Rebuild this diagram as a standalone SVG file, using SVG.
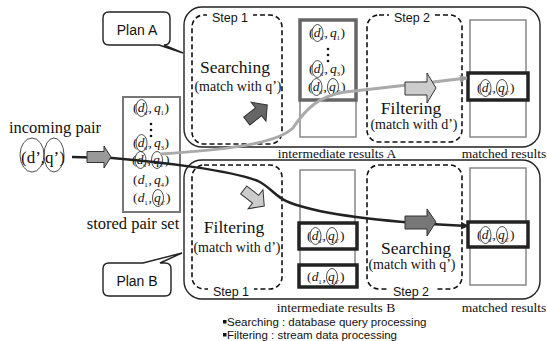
<svg xmlns="http://www.w3.org/2000/svg" width="547" height="341" viewBox="0 0 547 341">
<style>
.serif{font-family:"Liberation Serif","Times New Roman",serif;fill:#111}
.sans{font-family:"Liberation Sans",Arial,sans-serif;fill:#111}
.it{font-style:italic}
.sub{font-size:6px}
.plan{fill:#fff;stroke:#222;stroke-width:1.4}
.dash{fill:none;stroke:#111;stroke-width:1.6;stroke-dasharray:5,3}
.thin{fill:#fff;stroke:#888;stroke-width:1.5}
.thickg{fill:#fff;stroke:#666;stroke-width:3.5}
.thickb{fill:#fff;stroke:#222;stroke-width:3.5}
.ell{fill:none;stroke:#222;stroke-width:0.8}
.row{font-size:13.5px}
.lbl{font-size:13.5px}
.big{font-size:17.5px}
.mid{font-size:14px}
.step{font-size:12.5px}
.barrow{stroke:#333;stroke-width:1}
</style>
<defs>
<marker id="mg" viewBox="0 0 10 10" refX="9" refY="5" markerWidth="8" markerHeight="8" markerUnits="userSpaceOnUse" orient="auto"><path d="M0 0L10 5L0 10Z" fill="#999"/></marker>
<marker id="md" viewBox="0 0 10 10" refX="9" refY="5" markerWidth="8" markerHeight="8" markerUnits="userSpaceOnUse" orient="auto"><path d="M0 0L10 5L0 10Z" fill="#222"/></marker>
<path id="rarrow" d="M-13 -5H2V-12L13 0L2 12V5H-13Z"/>
</defs>
<rect width="547" height="341" fill="#fff"/>

<!-- Callouts -->
<g id="planA">
<path class="plan" d="M109 12H164Q170 12 170 18V39Q170 45 164 45L183 53L159 45H109Q103 45 103 39V18Q103 12 109 12Z"/>
<text class="sans" x="137" y="35" font-size="14" text-anchor="middle">Plan A</text>
</g>
<g id="planB">
<path class="plan" d="M109 263H143L182 253L160 263H165Q171 263 171 269V290Q171 296 165 296H109Q103 296 103 290V269Q103 263 109 263Z"/>
<text class="sans" x="137" y="286" font-size="14" text-anchor="middle">Plan B</text>
</g>

<!-- Plan boxes -->
<g id="planA-box"><rect class="plan" x="184" y="7" width="356" height="140" rx="18"/></g>
<g id="planB-box"><rect class="plan" x="184" y="160" width="356" height="139" rx="18"/></g>

<!-- Incoming pair -->
<g id="incoming">
<text class="serif" x="55" y="133" font-size="16.5" text-anchor="middle">incoming pair</text>
<text class="serif" x="21" y="163" font-size="17">(d’,q’)</text>
<ellipse class="ell" cx="32" cy="155" rx="12" ry="17"/>
<ellipse class="ell" cx="54" cy="155" rx="10" ry="17"/>
</g>

<!-- Stored pair set -->
<g id="stored">
<rect x="123" y="97" width="57" height="115" fill="#fff" stroke="#777" stroke-width="2"/>
<g class="serif row" transform="translate(133,112)">
<text x="0">(</text><text x="4.8" class="it">d</text><text x="11" y="3" class="sub">d’</text><text x="15.5">,</text><text x="21" class="it">q</text><text x="27.5" y="3" font-size="7">1</text><text x="31.5">)</text>
<ellipse class="ell" cx="8.5" cy="-4" rx="5.5" ry="8.5"/>
</g>
<circle cx="151" cy="124" r="1.3" fill="#111"/><circle cx="151" cy="130" r="1.3" fill="#111"/><circle cx="151" cy="136" r="1.3" fill="#111"/>
<g class="serif row" transform="translate(133,147)">
<text x="0">(</text><text x="4.8" class="it">d</text><text x="11" y="3" class="sub">d’</text><text x="15.5">,</text><text x="21" class="it">q</text><text x="27.5" y="3" font-size="7">3</text><text x="31.5">)</text>
<ellipse class="ell" cx="8.5" cy="-4" rx="5.5" ry="8.5"/>
</g>
<g class="serif row" transform="translate(132,164)">
<text x="0">(</text><text x="4.8" class="it">d</text><text x="11" y="3" class="sub">d’</text><text x="15.5">,</text><text x="21" class="it">q</text><text x="27.5" y="3" class="sub">d’</text><text x="33">)</text>
<ellipse class="ell" cx="8.5" cy="-4" rx="5.5" ry="8.5"/>
<ellipse class="ell" cx="25" cy="-4" rx="5.5" ry="8.5"/>
</g>
<g class="serif row" transform="translate(133,184)">
<text x="0">(</text><text x="4.8" class="it">d</text><text x="11.3" y="3" font-size="7">1</text><text x="15.5">,</text><text x="21" class="it">q</text><text x="27.5" y="3" font-size="7">4</text><text x="31.5">)</text>
</g>
<g class="serif row" transform="translate(133,202)">
<text x="0">(</text><text x="4.8" class="it">d</text><text x="11.3" y="3" font-size="7">1</text><text x="15.5">,</text><text x="21" class="it">q</text><text x="27.5" y="3" class="sub">d’</text><text x="33">)</text>
<ellipse class="ell" cx="25" cy="-4" rx="5.5" ry="8.5"/>
</g>
<text class="serif" x="133" y="229" font-size="16.5" text-anchor="middle">stored pair set</text>
</g>

<!-- Plan A Step 1 -->
<g id="A-step1">
<rect class="dash" x="192" y="15" width="90" height="129" rx="12"/>
<rect x="207" y="10" width="46" height="12" fill="#fff"/>
<text class="sans step" x="230" y="22" text-anchor="middle">Step 1</text>
<text class="serif big" x="235" y="73" text-anchor="middle">Searching</text>
<text class="serif mid" x="238" y="91" text-anchor="middle">(match with q’)</text>
</g>

<!-- Intermediate results A -->
<g id="A-inter">
<rect class="thin" x="300" y="20" width="56" height="117"/>
<rect class="thickg" x="300" y="20" width="56" height="80"/>
<g class="serif row" transform="translate(309,37)">
<text x="0">(</text><text x="4.8" class="it">d</text><text x="11" y="3" class="sub">d’</text><text x="15.5">,</text><text x="21" class="it">q</text><text x="27.5" y="3" font-size="7">1</text><text x="31.5">)</text>
<ellipse class="ell" cx="8.5" cy="-4" rx="5.5" ry="8.5"/>
</g>
<circle cx="328" cy="49" r="1.3" fill="#111"/><circle cx="328" cy="55" r="1.3" fill="#111"/><circle cx="328" cy="61" r="1.3" fill="#111"/>
<g class="serif row" transform="translate(309,73)">
<text x="0">(</text><text x="4.8" class="it">d</text><text x="11" y="3" class="sub">d’</text><text x="15.5">,</text><text x="21" class="it">q</text><text x="27.5" y="3" font-size="7">3</text><text x="31.5">)</text>
<ellipse class="ell" cx="8.5" cy="-4" rx="5.5" ry="8.5"/>
</g>
<g class="serif row" transform="translate(308,91)">
<text x="0">(</text><text x="4.8" class="it">d</text><text x="11" y="3" class="sub">d’</text><text x="15.5">,</text><text x="21" class="it">q</text><text x="27.5" y="3" class="sub">d’</text><text x="33">)</text>
<ellipse class="ell" cx="8.5" cy="-4" rx="5.5" ry="8.5"/>
<ellipse class="ell" cx="25" cy="-4" rx="5.5" ry="8.5"/>
</g>
<text class="serif lbl" x="337" y="158" text-anchor="middle">intermediate results A</text>
</g>

<!-- Plan A Step 2 -->
<g id="A-step2">
<rect class="dash" x="367" y="15" width="95" height="127" rx="12"/>
<rect x="389" y="10" width="46" height="12" fill="#fff"/>
<text class="sans step" x="412" y="22" text-anchor="middle">Step 2</text>
<text class="serif big" x="411" y="114" text-anchor="middle">Filtering</text>
<text class="serif mid" x="414" y="129" text-anchor="middle">(match with d’)</text>
</g>

<!-- Matched results A -->
<g id="A-matched">
<rect class="thin" x="470" y="20" width="56" height="117"/>
<rect class="thickb" x="468" y="73" width="60" height="27"/>
<g class="serif row" transform="translate(477,92)">
<text x="0">(</text><text x="4.8" class="it">d</text><text x="11" y="3" class="sub">d’</text><text x="15.5">,</text><text x="21" class="it">q</text><text x="27.5" y="3" class="sub">d’</text><text x="33">)</text>
<ellipse class="ell" cx="8.5" cy="-4" rx="5.5" ry="8.5"/>
<ellipse class="ell" cx="25" cy="-4" rx="5.5" ry="8.5"/>
</g>
<text class="serif lbl" x="504" y="158" text-anchor="middle">matched results</text>
</g>

<!-- Plan B Step 1 -->
<g id="B-step1">
<rect class="dash" x="192" y="165" width="90" height="124" rx="12"/>
<rect x="208" y="283" width="46" height="12" fill="#fff"/>
<text class="sans step" x="231" y="296" text-anchor="middle">Step 1</text>
<text class="serif big" x="234" y="233" text-anchor="middle">Filtering</text>
<text class="serif mid" x="237" y="252" text-anchor="middle">(match with d’)</text>
</g>

<!-- Intermediate results B -->
<g id="B-inter">
<rect class="thin" x="300" y="170" width="55" height="117"/>
<rect class="thickb" x="299" y="223" width="58" height="26"/>
<rect class="thickb" x="299" y="265" width="58" height="22"/>
<g class="serif row" transform="translate(307,240)">
<text x="0">(</text><text x="4.8" class="it">d</text><text x="11" y="3" class="sub">d’</text><text x="15.5">,</text><text x="21" class="it">q</text><text x="27.5" y="3" class="sub">d’</text><text x="33">)</text>
<ellipse class="ell" cx="8.5" cy="-4" rx="5.5" ry="8.5"/>
<ellipse class="ell" cx="25" cy="-4" rx="5.5" ry="8.5"/>
</g>
<g class="serif row" transform="translate(307,281)">
<text x="0">(</text><text x="4.8" class="it">d</text><text x="11.3" y="3" font-size="7">1</text><text x="15.5">,</text><text x="21" class="it">q</text><text x="27.5" y="3" class="sub">d’</text><text x="33">)</text>
<ellipse class="ell" cx="25" cy="-4" rx="5.5" ry="8.5"/>
</g>
<text class="serif lbl" x="336" y="312" text-anchor="middle">intermediate results B</text>
</g>

<!-- Plan B Step 2 -->
<g id="B-step2">
<rect class="dash" x="367" y="165" width="95" height="124" rx="12"/>
<rect x="389" y="283" width="46" height="12" fill="#fff"/>
<text class="sans step" x="411" y="296" text-anchor="middle">Step 2</text>
<text class="serif big" x="416" y="254" text-anchor="middle">Searching</text>
<text class="serif mid" x="412" y="269" text-anchor="middle">(match with q’)</text>
</g>

<!-- Matched results B -->
<g id="B-matched">
<rect class="thin" x="470" y="168" width="56" height="117"/>
<rect class="thickb" x="468" y="222" width="60" height="25"/>
<g class="serif row" transform="translate(477,239)">
<text x="0">(</text><text x="4.8" class="it">d</text><text x="11" y="3" class="sub">d’</text><text x="15.5">,</text><text x="21" class="it">q</text><text x="27.5" y="3" class="sub">d’</text><text x="33">)</text>
<ellipse class="ell" cx="8.5" cy="-4" rx="5.5" ry="8.5"/>
<ellipse class="ell" cx="25" cy="-4" rx="5.5" ry="8.5"/>
</g>
<text class="serif lbl" x="504" y="312" text-anchor="middle">matched results</text>
</g>

<!-- Connectors -->
<g id="connectors" fill="none">
<path d="M160 154C220 150 275 145 293 128C305 110 318 96 345 92Q400 86 467 78" stroke="#aaa" stroke-width="3" marker-end="url(#mg)"/>
<path d="M72 157L112 158C160 162 230 170 258 181C274 189 274 199 300 206C330 215 380 222 468 226" stroke="#222" stroke-width="2.5" marker-end="url(#md)"/>
</g>

<!-- Block arrows -->
<g id="block-arrows" class="barrow">
<path d="M87 151.5H104V146L111 157L104 168V162.5H87Z" fill="#999"/>
<use href="#rarrow" transform="translate(257,113) rotate(-38)" fill="#666"/>
<path d="M405 82H427V73L436 88L427 103V95H405Z" fill="#ccc"/>
<use href="#rarrow" transform="translate(254,198) rotate(38)" fill="#ccc"/>
<path d="M405 216H427V209L436 222L427 236V229H405Z" fill="#777"/>
</g>

<!-- Legend -->
<g id="legend">
<rect x="223" y="320" width="3.5" height="3.5" fill="#111"/>
<text class="sans" x="227" y="326" font-size="11.5">Searching : database query processing</text>
<rect x="223" y="333" width="3.5" height="3.5" fill="#111"/>
<text class="sans" x="227" y="339" font-size="11.5">Filtering : stream data processing</text>
</g>
</svg>
